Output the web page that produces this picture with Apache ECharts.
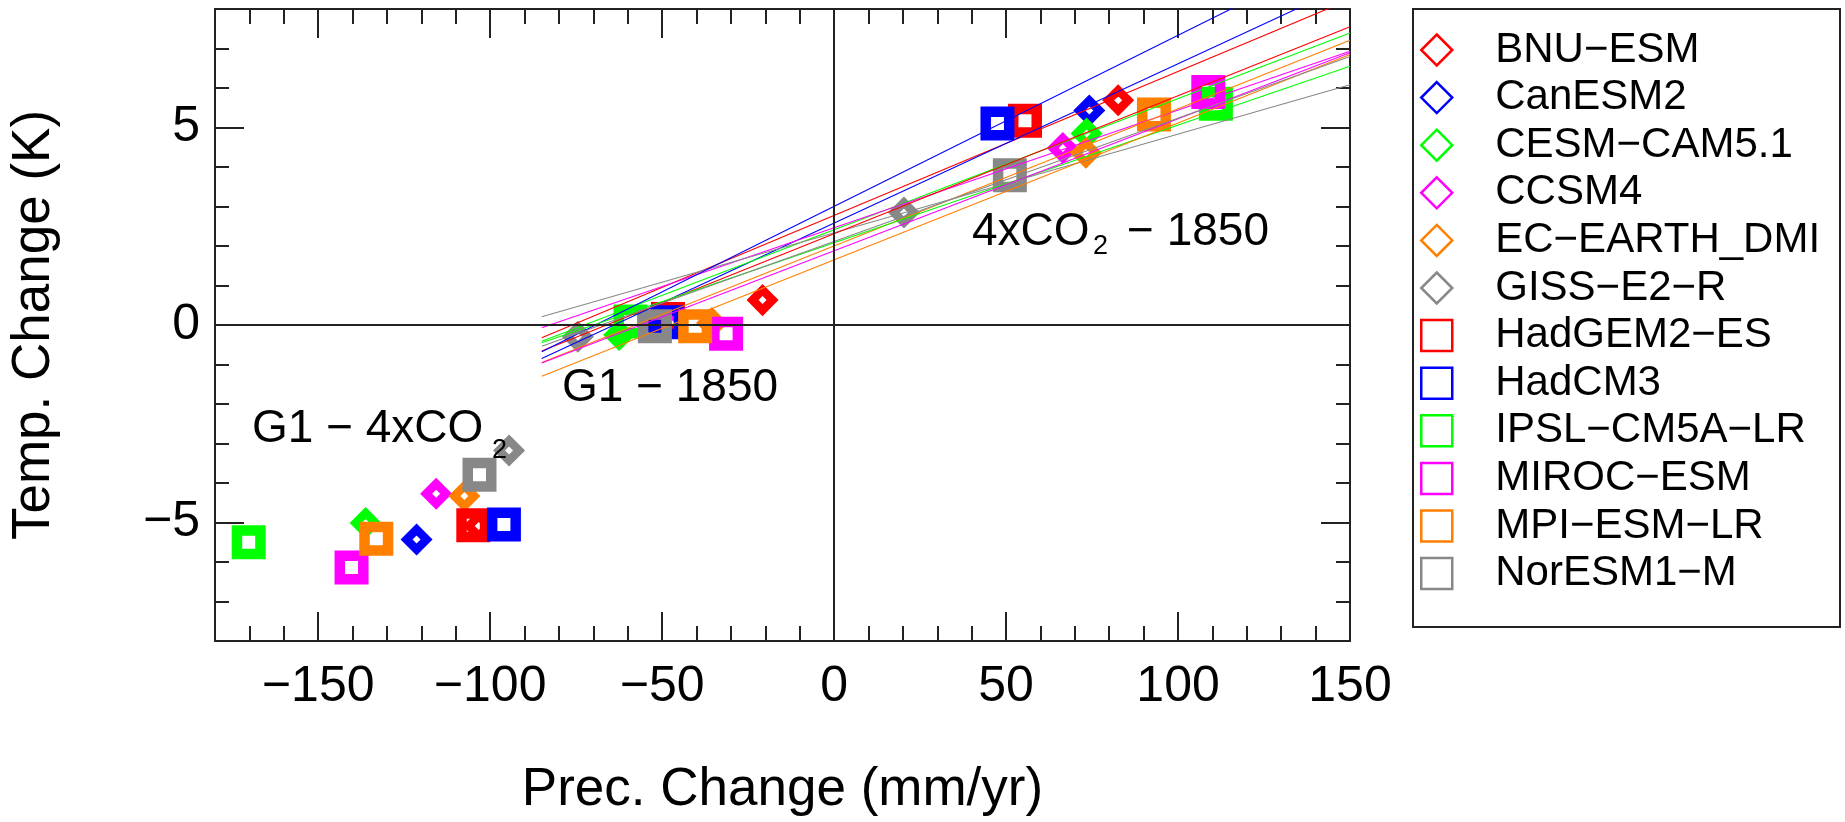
<!DOCTYPE html>
<html>
<head>
<meta charset="utf-8">
<script src="https://cdn.jsdelivr.net/npm/echarts@6/dist/echarts.min.js"></script>
<style>
html,body{margin:0;padding:0;background:#fff;}
#chart{width:1845px;height:822px;}
</style>
</head>
<body>
<div id="chart"></div>
<script>
// ---------------- data ----------------
const models = ['BNU-ESM','CanESM2','CESM-CAM5.1','CCSM4','EC-EARTH_DMI','GISS-E2-R',
                'HadGEM2-ES','HadCM3','IPSL-CM5A-LR','MIROC-ESM','MPI-ESM-LR','NorESM1-M'];
// G1 - 4xCO2
const precG1_4xCO2 = [-103.3,-121.4,-136.2,-115.7,-107.5,-94.5,-104.9,-96.0,-170.2,-140.3,-133.1,-103.1];
const tempG1_4xCO2 = [-5.09,-5.43,-5.01,-4.27,-4.33,-3.18,-5.07,-5.05,-5.50,-6.14,-5.41,-3.79];
// G1 - 1850
const precG1_1850 = [-20.8,-51.5,-62.5,-47.5,-35.5,-74.5,-48.3,-48.5,-59.2,-31.4,-40.4,-52.1];
const tempG1_1850 = [0.63,0.0,-0.25,0.05,0.05,-0.30,0.15,0.07,0.09,-0.22,-0.03,-0.03];
// 4xCO2 - 1850
const prec4xCO2_1850 = [82.6,74.2,73.4,66.5,73.2,20.3,55.5,47.5,111.0,108.8,93.0,51.1];
const temp4xCO2_1850 = [5.69,5.43,4.85,4.48,4.36,2.85,5.17,5.10,5.60,5.90,5.33,3.79];
// regression lines: temperature at the two ends of the fitted precipitation range
const fitPrecRange = [-85, 150];
const fitTempStart = [-0.32,-0.85,-0.41,-0.07,-0.95,0.21,-0.66,-0.68,-0.45,-0.96,-1.30,-0.54];
const fitTempEnd   = [8.24,8.63,7.39,6.93,7.21,6.08,7.55,9.50,6.55,6.89,6.85,6.80];
// axes
const xRange = [-180, 150];
const yRange = [-8, 8];
const xMajorTicks = [-150,-100,-50,0,50,100,150];
const yMajorTicks = [-5,0,5];
const xMinorStep = 10;
const yMinorStep = 1;

// ---------------- style ----------------
const colors = ['#FF0000','#0000FF','#00FF00','#FF00FF','#FF7F00','#888888',
                '#FF0000','#0000FF','#00FF00','#FF00FF','#FF7F00','#888888'];
const shapes = ['diamond','diamond','diamond','diamond','diamond','diamond',
                'rect','rect','rect','rect','rect','rect'];
const FONT = '"Liberation Sans", Arial, Helvetica, sans-serif';
const AX = '#222';
const minus = s => String(s).replace(/-/g, '\u2212');

const chart = echarts.init(document.getElementById('chart'), null, {renderer:'canvas'});

const series = [];
models.forEach((m, i) => {
  const isRect = shapes[i] === 'rect';
  series.push({
    type: 'scatter', name: m, xAxisIndex: 0, yAxisIndex: 0,
    symbol: shapes[i],
    symbolSize: isRect ? 23.5 : 20,
    itemStyle: {color: 'rgba(0,0,0,0)', borderColor: colors[i], borderWidth: isRect ? 10.5 : 8.5, borderJoin: 'miter', opacity: 1},
    emphasis: {disabled: true},
    data: [[precG1_4xCO2[i], tempG1_4xCO2[i]], [precG1_1850[i], tempG1_1850[i]], [prec4xCO2_1850[i], temp4xCO2_1850[i]]]
  });
});
models.forEach((m, i) => {
  series.push({
    type: 'line', name: m + ' fit', xAxisIndex: 0, yAxisIndex: 0,
    showSymbol: false, symbol: 'none', clip: true, silent: true,
    lineStyle: {color: colors[i], width: 1.1},
    data: [[fitPrecRange[0], fitTempStart[i]], [fitPrecRange[1], fitTempEnd[i]]]
  });
});
// zero cross-lines
series.push({
  type: 'line', name: 'zero', xAxisIndex: 0, yAxisIndex: 0, data: [], silent: true, z: 5,
  markLine: {silent: true, symbol: 'none', animation: false, label: {show: false},
    lineStyle: {color: AX, width: 2, type: 'solid'},
    data: [{xAxis: 0}, {yAxis: 0}]}
});

function majorAxisX(pos, showLabel, showName) {
  return {
    type: 'value', position: pos, min: xRange[0], max: xRange[1], gridIndex: 0,
    axisLine: {show: true, onZero: false, lineStyle: {color: AX, width: 2}},
    axisTick: {show: true, inside: true, length: 29, customValues: xMajorTicks, lineStyle: {color: AX, width: 2}},
    axisLabel: {show: showLabel, customValues: xMajorTicks, fontSize: 50, fontFamily: FONT, color: '#000', margin: 21, formatter: v => minus(v)},
    splitLine: {show: false},
    name: showName ? 'Prec. Change (mm/yr)' : '', nameLocation: 'middle', nameGap: 123,
    nameTextStyle: {fontSize: 53, fontFamily: FONT, color: '#000'}
  };
}
function minorAxisX(pos) {
  return {
    type: 'value', position: pos, min: xRange[0], max: xRange[1], interval: xMinorStep, gridIndex: 0,
    axisLine: {show: false, onZero: false},
    axisTick: {show: true, inside: true, length: 15, lineStyle: {color: AX, width: 2}},
    axisLabel: {show: false}, splitLine: {show: false}
  };
}
function majorAxisY(pos, showLabel, showName) {
  return {
    type: 'value', position: pos, min: yRange[0], max: yRange[1], gridIndex: 0,
    axisLine: {show: true, onZero: false, lineStyle: {color: AX, width: 2}},
    axisTick: {show: true, inside: true, length: 29, customValues: yMajorTicks, lineStyle: {color: AX, width: 2}},
    axisLabel: {show: showLabel, customValues: yMajorTicks, fontSize: 50, fontFamily: FONT, color: '#000', margin: 15, formatter: v => minus(v)},
    splitLine: {show: false},
    name: showName ? 'Temp. Change (K)' : '', nameLocation: 'middle', nameGap: 154, nameRotate: 90,
    nameTextStyle: {fontSize: 53, fontFamily: FONT, color: '#000'}
  };
}
function minorAxisY(pos) {
  return {
    type: 'value', position: pos, min: yRange[0], max: yRange[1], interval: yMinorStep, gridIndex: 0,
    axisLine: {show: false, onZero: false},
    axisTick: {show: true, inside: true, length: 14, lineStyle: {color: AX, width: 2}},
    axisLabel: {show: false}, splitLine: {show: false}
  };
}

const option = {
  animation: false,
  backgroundColor: '#fff',
  textStyle: {fontFamily: FONT},
  grid: {left: 215, top: 9, width: 1135, height: 633, containLabel: false},
  xAxis: [majorAxisX('bottom', true, true), minorAxisX('bottom'), minorAxisX('top'), majorAxisX('top', false, false)],
  yAxis: [majorAxisY('left', true, true), minorAxisY('left'), minorAxisY('right'), majorAxisY('right', false, false)],
  legend: {
    orient: 'vertical', left: 1420, top: 29, padding: 0,
    itemWidth: 31, itemHeight: 31, itemGap: 5.6,
    selectedMode: false,
    textStyle: {fontSize: 42, fontFamily: FONT, color: '#000', padding: [0, 0, 0, 38]},
    formatter: name => minus(name),
    data: models.map((m, i) => ({
      name: m, icon: shapes[i],
      itemStyle: {color: 'rgba(0,0,0,0)', borderColor: colors[i], borderWidth: 2.5}
    }))
  },
  graphic: [
    {type: 'rect', z: 100, shape: {x: 1413, y: 9, width: 427, height: 618},
     style: {fill: 'none', stroke: AX, lineWidth: 2}},
    {type: 'text', z: 100, x: 252, y: 429, style: {text: 'G1 \u2212 4xCO', fontSize: 46, fontFamily: FONT, fill: '#000', align: 'left', verticalAlign: 'middle'}},
    {type: 'text', z: 100, x: 492, y: 451, style: {text: '2', fontSize: 27, fontFamily: FONT, fill: '#000', align: 'left', verticalAlign: 'middle'}},
    {type: 'text', z: 100, x: 562, y: 388, style: {text: 'G1 \u2212 1850', fontSize: 46, fontFamily: FONT, fill: '#000', align: 'left', verticalAlign: 'middle'}},
    {type: 'text', z: 100, x: 972, y: 232, style: {text: '4xCO', fontSize: 46, fontFamily: FONT, fill: '#000', align: 'left', verticalAlign: 'middle'}},
    {type: 'text', z: 100, x: 1093, y: 247, style: {text: '2', fontSize: 27, fontFamily: FONT, fill: '#000', align: 'left', verticalAlign: 'middle'}},
    {type: 'text', z: 100, x: 1127, y: 232, style: {text: '\u2212 1850', fontSize: 46, fontFamily: FONT, fill: '#000', align: 'left', verticalAlign: 'middle'}}
  ],
  series: series
};
chart.setOption(option);
</script>
</body>
</html>
